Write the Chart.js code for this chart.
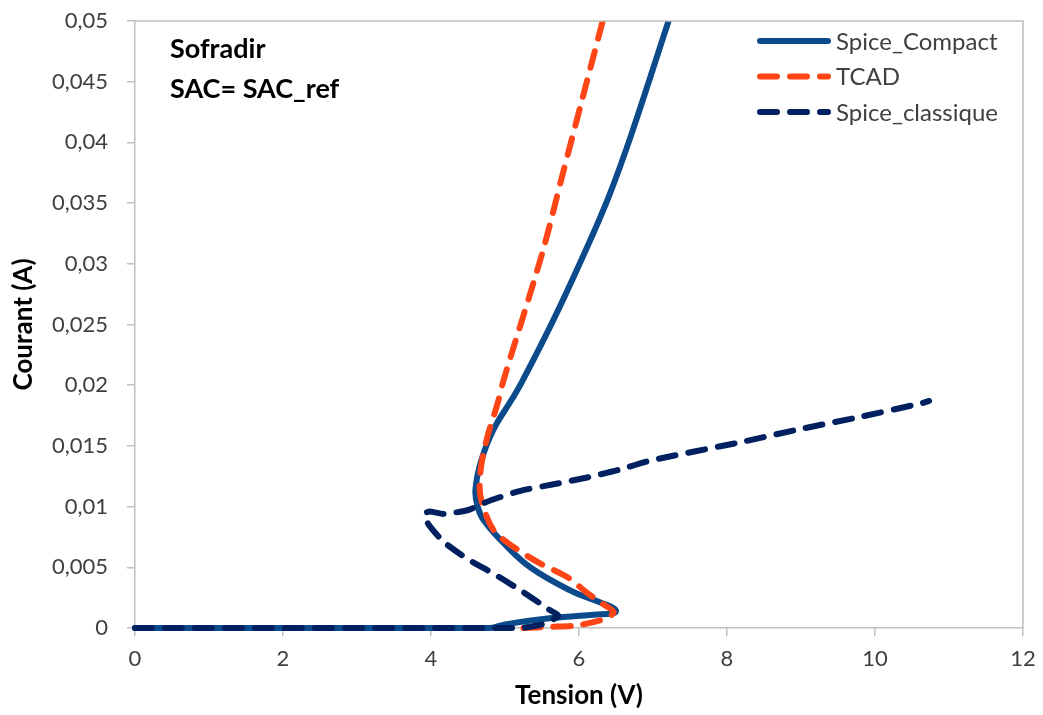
<!DOCTYPE html>
<html lang="fr">
<head>
<meta charset="UTF-8">
<title>Courant vs Tension</title>
<style>
  body { margin: 0; background: #fff; }
  #wrap { width: 1043px; height: 715px; }
</style>
</head>
<body>
<div id="wrap"><canvas id="chart" width="1043" height="715"></canvas></div>

<script src="https://cdn.jsdelivr.net/npm/chart.js@4.4.0/dist/chart.umd.min.js"></script>
<script>
// values (V, A)
const compactV = [0, 4.8, 5.0, 5.6, 6.2, 6.45, 6.5, 6.45, 6.29, 5.88, 5.34, 4.98, 4.71, 4.63, 4.60, 4.67, 4.84, 5.11, 5.24, 5.64, 6.03, 6.40, 6.71, 7.21];
const compactI = [0, 0, 0.0003, 0.0008, 0.0011, 0.0012, 0.0014, 0.0017, 0.0021, 0.0031, 0.0050, 0.0070, 0.0089, 0.0100, 0.0113, 0.0136, 0.0163, 0.0190, 0.0204, 0.0252, 0.0303, 0.0355, 0.0407, 0.0500];

const tcadV = [5.25, 5.6, 5.95, 6.32, 6.47, 6.29, 6.11, 5.84, 5.48, 5.11, 4.84, 4.67, 4.67, 4.76, 4.90, 4.98, 5.50, 5.78, 6.05, 6.32];
const tcadI = [0, 0.0001, 0.0002, 0.0007, 0.0013, 0.0021, 0.0029, 0.0042, 0.0053, 0.0067, 0.0081, 0.0108, 0.0130, 0.0157, 0.0185, 0.0204, 0.0308, 0.0374, 0.0437, 0.0500];

const classV = [0, 5.2, 5.5, 5.72, 5.6, 5.21, 4.84, 4.49, 4.17, 3.97, 3.91, 3.98, 4.17, 4.49, 4.80, 5.21, 5.71, 6.11, 6.52, 6.97, 8.18, 9.0, 9.81, 10.62, 10.73];
const classI = [0, 0, 0.0003, 0.0010, 0.0015, 0.0031, 0.0045, 0.0057, 0.0071, 0.0085, 0.0094, 0.0096, 0.0094, 0.0097, 0.0105, 0.0113, 0.0119, 0.0124, 0.0130, 0.0138, 0.0153, 0.0164, 0.0174, 0.0185, 0.0187];

const xTicks = [0, 2, 4, 6, 8, 10, 12];
const notes = ['Sofradir', 'SAC= SAC_ref'];

const pts = (xs, ys) => xs.map((x, i) => ({ x: x, y: ys[i] }));

const AXIS = '#BFBFBF';
const TXT = '#404040';
const FONT = 'Lato, "Open Sans", sans-serif';
const CLIP = { left: 5, right: 5, top: 0, bottom: 5 };

// plot area frame (top + right edges)
const frame = {
  id: 'frame',
  afterDraw(chart) {
    const { ctx, chartArea: a } = chart;
    ctx.save();
    ctx.strokeStyle = AXIS;
    ctx.lineWidth = 1.5;
    ctx.beginPath();
    ctx.moveTo(a.left, a.top);
    ctx.lineTo(a.right, a.top);
    ctx.lineTo(a.right, a.bottom);
    ctx.stroke();
    ctx.restore();
  }
};

// text box in the upper left
const noteBox = {
  id: 'noteBox',
  afterDraw(chart) {
    const ctx = chart.ctx;
    ctx.save();
    ctx.fillStyle = '#000';
    ctx.font = 'bold 27px ' + FONT;
    ctx.textBaseline = 'middle';
    notes.forEach((t, i) => ctx.fillText(t, 170, 49 + i * 40));
    ctx.restore();
  }
};

// legend drawn with line samples
const lineLegend = {
  id: 'lineLegend',
  afterDraw(chart) {
    const ctx = chart.ctx;
    ctx.save();
    chart.data.datasets.forEach((ds, i) => {
      const y = 41 + i * 35.5;
      ctx.strokeStyle = ds.borderColor;
      ctx.lineWidth = ds.borderWidth;
      ctx.lineCap = 'round';
      ctx.setLineDash(ds.borderDash || []);
      ctx.beginPath();
      ctx.moveTo(760, y);
      ctx.lineTo(828, y);
      ctx.stroke();
      ctx.setLineDash([]);
      ctx.fillStyle = TXT;
      ctx.font = '24px ' + FONT;
      ctx.textBaseline = 'middle';
      ctx.fillText(ds.label, 836, y + 1);
    });
    ctx.restore();
  }
};

const fmt = v => {
  const r = Math.round(v * 1000) / 1000;
  return r === 0 ? '0' : String(r).replace('.', ',');
};

new Chart(document.getElementById('chart'), {
  type: 'scatter',
  data: {
    datasets: [
      {
        label: 'Spice_Compact',
        data: pts(compactV, compactI),
        showLine: true,
        borderColor: '#0B4A8B',
        borderWidth: 6,
        tension: 0.4,
        pointRadius: 0,
        borderCapStyle: 'round',
        borderJoinStyle: 'round',
        clip: CLIP,
        order: 2
      },
      {
        label: 'TCAD',
        data: pts(tcadV, tcadI),
        showLine: true,
        borderColor: '#FF4516',
        borderWidth: 6,
        borderDash: [17, 13],
        borderCapStyle: 'round',
        tension: 0.3,
        pointRadius: 0,
        clip: CLIP,
        order: 1
      },
      {
        label: 'Spice_classique',
        data: pts(classV, classI),
        showLine: true,
        borderColor: '#002060',
        borderWidth: 6,
        borderDash: [17, 13],
        borderCapStyle: 'round',
        tension: 0.2,
        pointRadius: 0,
        clip: CLIP,
        order: 0
      }
    ]
  },
  options: {
    responsive: false,
    animation: false,
    layout: { padding: { top: 21, right: 20, left: 0, bottom: 0 } },
    plugins: {
      legend: { display: false },
      tooltip: { enabled: false }
    },
    scales: {
      x: {
        type: 'linear',
        min: 0,
        max: 12,
        afterFit: s => { s.height = 87; s.paddingLeft = 0; s.paddingRight = 0; },
        afterBuildTicks: s => { s.ticks = xTicks.map(v => ({ value: v })); },
        grid: { drawOnChartArea: false, color: AXIS, tickLength: 8, lineWidth: 1.5 },
        border: { color: AXIS, width: 1.5 },
        ticks: { color: TXT, font: { family: FONT, size: 22 }, padding: 10, maxRotation: 0 },
        title: {
          display: true,
          text: 'Tension (V)',
          color: '#000',
          font: { family: FONT, size: 26, weight: 'bold' },
          padding: { top: 0, bottom: 4 }
        }
      },
      y: {
        type: 'linear',
        min: 0,
        max: 0.05,
        afterFit: s => { s.width = 135; s.paddingTop = 0; s.paddingBottom = 0; },
        grid: { drawOnChartArea: false, color: AXIS, tickLength: 8, lineWidth: 1.5 },
        border: { color: AXIS, width: 1.5 },
        ticks: { stepSize: 0.005, color: TXT, font: { family: FONT, size: 22 }, padding: 19, callback: fmt },
        title: {
          display: true,
          text: 'Courant (A)',
          color: '#000',
          font: { family: FONT, size: 26, weight: 'bold' },
          padding: { top: 8, bottom: 0 }
        }
      }
    }
  },
  plugins: [frame, noteBox, lineLegend]
});
</script>
</body>
</html>
